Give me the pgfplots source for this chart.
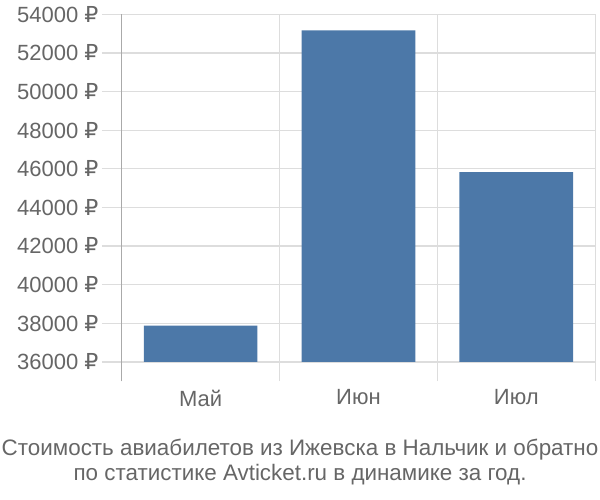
\documentclass[border=0pt]{standalone}
\usepackage{fontspec}
\setmainfont{Liberation Sans}
\newfontfamily\dv{DejaVu Sans}
\usepackage{pgfplots}
\pgfplotsset{compat=1.18}
\definecolor{barblue}{HTML}{4C78A8}
\definecolor{gridgray}{HTML}{DDDDDD}
\definecolor{axisgray}{HTML}{AAAAAA}
\definecolor{txt}{HTML}{666666}
\newcommand{\rub}{{\dv ₽}}
\begin{document}
\begin{tikzpicture}[x=1bp,y=1bp]
\useasboundingbox (-121.7bp,-118.7bp) rectangle (478.3bp,381.3bp);
\begin{axis}[
  at={(0,0)}, anchor=south west,
  scale only axis, width=473.5bp, height=367bp,
  xmin=-0.5, xmax=2.5, ymin=35000, ymax=54000,
  scaled y ticks=false,
  ybar stacked, bar width=0.72,
  xtick={0,1,2}, xticklabels={Май,Июн,Июл},
  minor xtick={-0.5,0.5,1.5,2.5}, xminorgrids,
  minor x grid style={gridgray, line width=1.3bp},
  ytick={36000,38000,...,54000},
  yticklabels={36000 \rub,38000 \rub,40000 \rub,42000 \rub,44000 \rub,46000 \rub,48000 \rub,50000 \rub,52000 \rub,54000 \rub},
  ymajorgrids, major grid style={gridgray, line width=1.3bp},
  tick align=outside, ytick pos=left, major tick length=20bp, minor tick length=0pt,
  ytick style={gridgray, line width=1.3bp},
  xtick style={draw=none},
  axis line style={draw=none},
  tick label style={font=\fontsize{22bp}{24bp}\selectfont, text=txt},
  yticklabel style={inner sep=3bp},
  xticklabel style={yshift=15bp},
  clip=false,
]
\addplot[fill=none, draw=none] coordinates {(0,36000) (1,36000) (2,36000)};
\addplot[fill=barblue, draw=none] coordinates {(0,1880) (1,17170) (2,9830)};
\draw[axisgray, line width=1.5bp] (rel axis cs:0,0) -- (rel axis cs:0,1);
\end{axis}
\node[align=center, text=txt, font=\fontsize{22.4bp}{25bp}\selectfont] at (178.3bp,-80.5bp)
  {Стоимость авиабилетов из Ижевска в Нальчик и обратно\\по статистике Avticket.ru в динамике за год.};
\end{tikzpicture}
\end{document}
